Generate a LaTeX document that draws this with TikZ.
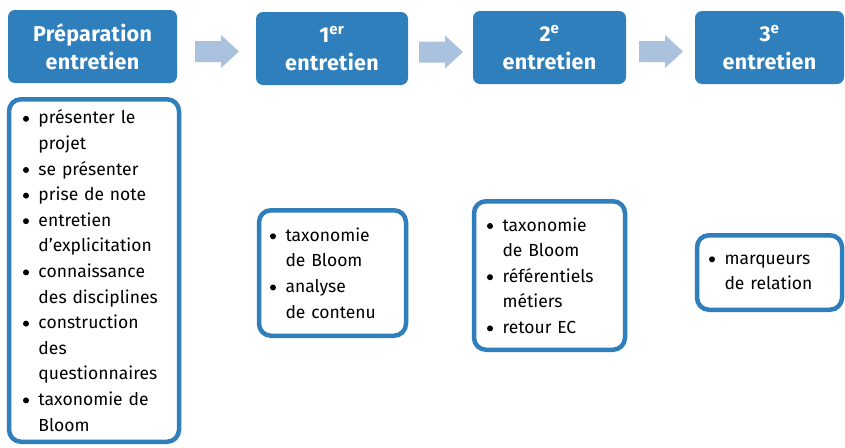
\documentclass[tikz,border=0pt]{standalone}
\usepackage{fontspec}
\setmainfont{Fira Sans}
\usetikzlibrary{calc}

\definecolor{stepblue}{RGB}{46,127,188}
\definecolor{arrowblue}{RGB}{171,194,222}

% bullet lists with a hanging indent
\newlength{\bulw}
\setlength{\bulw}{12pt}
\newcommand{\bigbul}{\raisebox{2pt}{\tikz\fill[black] (0pt,0pt) circle (3pt);}}
\newcommand{\bl}[1]{\makebox[\bulw][l]{\hspace*{-3.5pt}\bigbul}#1}
\newcommand{\cl}[1]{\hspace*{\bulw}#1}

\tikzset{
  headbox/.style={rectangle, rounded corners=7pt, fill=stepblue, text=white,
    font=\fontsize{21.5}{28}\selectfont\bfseries\addfontfeatures{LetterSpace=1.5},
    align=center, minimum width=#1, minimum height=73pt, inner sep=0pt},
  listbox/.style={rectangle, rounded corners=12pt, draw=stepblue, line width=4.5pt,
    fill=white, font=\fontsize{17.5}{25.6}\selectfont, align=left,
    inner xsep=16pt, inner ysep=0pt},
  blockarrow/.style={fill=arrowblue},
}

% block arrow centred between two header boxes
\newcommand{\blockarrow}[2]{%
  \path[blockarrow] ($(#1.east)!0.5!(#2.west)+(0,4)$) ++(-21.5,-10.5)
    -- ++(26,0) -- ++(0,-6) -- ++(18,16.5) -- ++(-18,16.5) -- ++(0,-6)
    -- ++(-26,0) -- cycle;}

\begin{document}
\begin{tikzpicture}[x=1pt, y=-1pt]
\useasboundingbox[fill=white] (0,0) rectangle (845,447);

% header steps
\node[headbox=169pt] (h1) at (92.5,46.5) {Préparation\\entretien};
\node[headbox=152pt] (h2) at (332,48.5) {1\textsuperscript{er}\\entretien};
\node[headbox=153pt] (h3) at (549.5,47.5) {2\textsuperscript{e}\\entretien};
\node[headbox=149pt] (h4) at (769.5,47.5) {3\textsuperscript{e}\\entretien};

% arrows between steps
\blockarrow{h1}{h2}
\blockarrow{h2}{h3}
\blockarrow{h3}{h4}

% contents of each step
\node[listbox, text width=135pt, minimum height=342.5pt, inner xsep=17.5pt] (l1) at (94,270.5) {%
  \bl{présenter le}\\
  \cl{projet}\\
  \bl{se présenter}\\
  \bl{prise de note}\\
  \bl{entretien}\\
  \cl{d’explicitation}\\
  \bl{connaissance}\\
  \cl{des disciplines}\\
  \bl{construction}\\
  \cl{des}\\
  \cl{questionnaires}\\
  \bl{taxonomie de}\\
  \cl{Bloom}};

\node[listbox, text width=118pt, minimum height=125.5pt, inner xsep=14.5pt] (l2) at (332.5,273) {%
  \bl{taxonomie}\\
  \cl{de Bloom}\\
  \bl{analyse}\\
  \cl{de contenu}};

\node[listbox, text width=118pt, minimum height=148.5pt, inner xsep=16.5pt] (l3) at (549.5,275.5) {%
  \bl{taxonomie}\\
  \cl{de Bloom}\\
  \bl{référentiels}\\
  \cl{métiers}\\
  \bl{retour EC}};

\node[listbox, text width=114pt, minimum height=74.5pt, inner xsep=15.5pt] (l4) at (769.5,272.5) {%
  \bl{marqueurs}\\
  \cl{de relation}};
\end{tikzpicture}
\end{document}
